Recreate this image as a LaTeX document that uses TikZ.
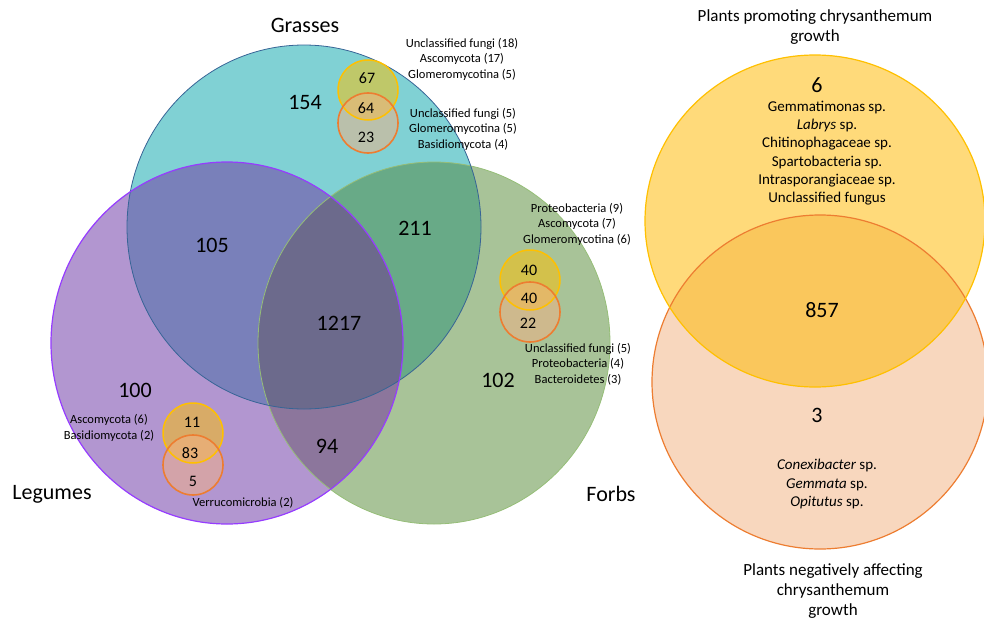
\documentclass[tikz,border=0pt]{standalone}
\usepackage{fontspec}
\setmainfont{Carlito}
\usepackage{tikz}

\definecolor{grassfill}{RGB}{128,209,212}
\definecolor{legumefill}{RGB}{178,150,208}
\definecolor{forbfill}{RGB}{168,195,152}
\definecolor{glfill}{RGB}{121,128,186}
\definecolor{gffill}{RGB}{104,170,135}
\definecolor{lffill}{RGB}{140,118,156}
\definecolor{glffill}{RGB}{108,106,140}
\definecolor{grassline}{RGB}{55,100,150}
\definecolor{legumeline}{RGB}{150,60,255}
\definecolor{forbline}{RGB}{150,190,120}
\definecolor{promyellow}{RGB}{255,192,0}
\definecolor{negorange}{RGB}{237,125,49}
\definecolor{negpeach}{RGB}{244,177,131}
\definecolor{promfill}{RGB}{255,218,122}
\definecolor{negfill}{RGB}{248,215,190}
\definecolor{bothfill}{RGB}{250,199,92}

\begin{document}
\begin{tikzpicture}[x=1pt,y=-1pt,
    bignum/.style={font=\fontsize{22}{26}\selectfont},
    smallnum/.style={font=\fontsize{16}{19}\selectfont},
    taxa/.style={font=\fontsize{12.5}{15.5}\selectfont, align=center},
    splist/.style={font=\fontsize{15}{18.3}\selectfont, align=center},
    heading/.style={font=\fontsize{17}{20}\selectfont, align=center}]
\useasboundingbox (0,0) rectangle (984,623);

% Venn centres
\coordinate (Grasses-c) at (304,227);
\coordinate (Legumes-c) at (227,343);
\coordinate (Forbs-c) at (434,343);

% Single regions
\fill[grassfill] (Grasses-c) ellipse[x radius=177, y radius=182];
\fill[legumefill] (Legumes-c) ellipse[x radius=176, y radius=181];
\fill[forbfill] (Forbs-c) ellipse[x radius=176, y radius=181];
% Legumes and Forbs
\begin{scope}
    \clip (Legumes-c) ellipse[x radius=176, y radius=181];
    \fill[lffill] (Forbs-c) ellipse[x radius=176, y radius=181];
\end{scope}
% Overlaps with Grasses
\begin{scope}
    \clip (Grasses-c) ellipse[x radius=177, y radius=182];
    \fill[glfill] (Legumes-c) ellipse[x radius=176, y radius=181];
    \fill[gffill] (Forbs-c) ellipse[x radius=176, y radius=181];
    \clip (Legumes-c) ellipse[x radius=176, y radius=181];
    \fill[glffill] (Forbs-c) ellipse[x radius=176, y radius=181];
\end{scope}
% Outlines
\draw[forbline, line width=.8pt] (Forbs-c) ellipse[x radius=176, y radius=181];
\draw[grassline, line width=.8pt] (Grasses-c) ellipse[x radius=177, y radius=182];
\draw[legumeline, line width=1.2pt] (Legumes-c) ellipse[x radius=176, y radius=181];

% Small circle pairs
\foreach \n/\x/\ya/\yb in {G/368/90/123, F/530/280/312, L/193/433/465} {
    \coordinate (\n-yel) at (\x,\ya);
    \coordinate (\n-ora) at (\x,\yb);
    \fill[promyellow, fill opacity=.5] (\n-yel) circle[radius=30];
    \fill[negpeach, fill opacity=.5] (\n-ora) circle[radius=30];
    \draw[promyellow, line width=1.5pt] (\n-yel) circle[radius=30];
    \draw[negorange, line width=1.6pt] (\n-ora) circle[radius=30];
}

% Set labels
\node[bignum] (Grasses) at (305,25) {Grasses};
\node[bignum] (Legumes) at (52,494) {Legumes};
\node[bignum] (Forbs) at (611,494) {Forbs};

% Region counts
\foreach \val/\x/\y in {154/305/102, 105/212/245, 211/415/228, 1217/339/323, 100/135/390, 94/327/446, 102/498/380} {
    \node[bignum] (num-\val) at (\x,\y) {\val};
}
\foreach \val/\x/\y [count=\i] in {67/367/78, 64/366/108, 23/366/137, 40/529/270, 40/529/298, 22/528/323, 11/192/422, 83/190/453, 5/193/481} {
    \node[smallnum] (small-\i) at (\x,\y) {\val};
}

% Taxa
\node[taxa] (taxa-g1) at (462,59) {Unclassified fungi (18)\\Ascomycota (17)\\Glomeromycotina (5)};
\node[taxa] (taxa-g2) at (463,129) {Unclassified fungi (5)\\Glomeromycotina (5)\\Basidiomycota (4)};
\node[taxa] (taxa-f1) at (577,224) {Proteobacteria (9)\\Ascomycota (7)\\Glomeromycotina (6)};
\node[taxa] (taxa-f2) at (578,364) {Unclassified fungi (5)\\Proteobacteria (4)\\Bacteroidetes (3)};
\node[taxa] (taxa-l1) at (109,428) {Ascomycota (6)\\Basidiomycota (2)};
\node[taxa] (taxa-l2) at (243,503) {Verrucomicrobia (2)};

% Chrysanthemum Venn
\coordinate (Promote-c) at (815,221);
\coordinate (Negative-c) at (820,382);
\fill[promfill] (Promote-c) ellipse[x radius=170, y radius=166];
\fill[negfill] (Negative-c) ellipse[x radius=168, y radius=167];
\begin{scope}
    \clip (Promote-c) ellipse[x radius=170, y radius=166];
    \fill[bothfill] (Negative-c) ellipse[x radius=168, y radius=167];
\end{scope}
\draw[negorange, line width=1.2pt] (Negative-c) ellipse[x radius=168, y radius=167];
\draw[promyellow, line width=1.2pt] (Promote-c) ellipse[x radius=170, y radius=166];

\node[heading] (promote-title) at (815,27) {Plants promoting chrysanthemum\\growth};
\node[bignum] (promote-num) at (817,85) {6};
\node[splist] (promote-list) at (827,153) {Gemmatimonas sp.\\\textit{Labrys} sp.\\Chitinophagaceae sp.\\Spartobacteria sp.\\Intrasporangiaceae sp.\\Unclassified fungus};
\node[bignum] (both-num) at (822,310) {857};
\node[bignum] (negative-num) at (817,415) {3};
\node[splist] (negative-list) at (827,484) {\textit{Conexibacter} sp.\\\textit{Gemmata} sp.\\\textit{Opitutus} sp.};
\node[heading] (negative-title) at (833,591) {Plants negatively affecting\\chrysanthemum\\growth};
\end{tikzpicture}
\end{document}
